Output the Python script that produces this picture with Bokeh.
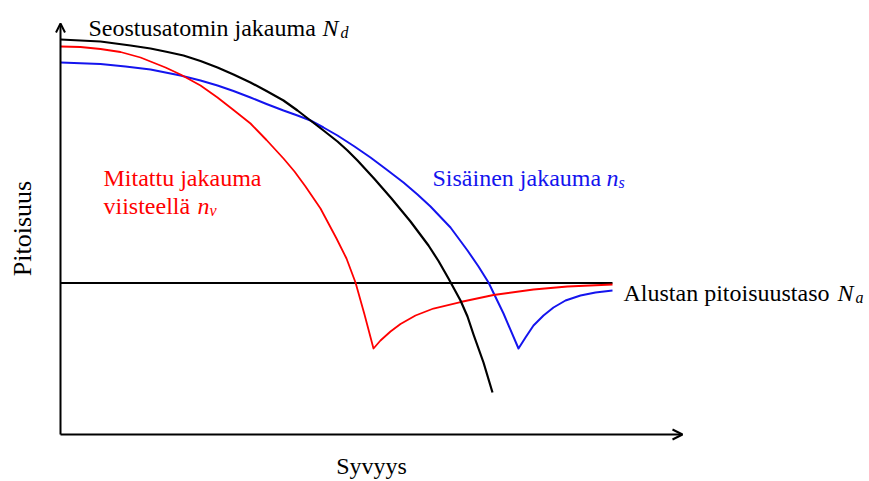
from bokeh.plotting import figure
from bokeh.models import Range1d, Arrow, OpenHead, Label
from bokeh.embed import file_html
from bokeh.resources import INLINE
import math

# ---- data (depth, concentration) in arbitrary units ----
dopant_depth = [0, 40, 70, 90, 107, 123, 140, 157, 173, 190, 206, 223, 237, 250, 263, 277, 287, 297,
                314, 331, 350, 368, 378, 388, 400, 407, 413, 423, 432]
dopant_conc = [395, 393, 389, 386, 382.5, 379, 373.5, 367, 360, 352, 343.5, 334, 324, 314, 304, 293, 284, 274,
               255.5, 236, 213, 189, 173.5, 156, 134, 118, 100, 72, 42]

measured_depth = [0, 20, 40, 60, 80, 90, 105, 120, 140, 157, 173, 190, 206, 223, 234, 245, 260, 276, 286,
                  295, 304, 313,
                  320, 330, 340, 355, 373, 400, 433, 473, 507, 552]
measured_conc = [388, 387.5, 385.5, 382.5, 377, 373, 367, 360, 349, 337, 324.5, 311, 294.5, 276, 263, 248, 226,
                 196, 176, 152, 120, 86,
                 94, 103, 110.5, 119, 126, 132.5, 139.5, 145, 148, 150]

intrinsic_depth = [0, 40, 65, 90, 120, 140, 157, 173, 190, 206, 223, 237, 250, 263, 277, 294, 310, 326, 343,
                   357, 370, 390, 407, 418, 428, 443, 458,
                   465, 473, 483, 493, 505, 520, 535, 552]
intrinsic_conc = [372, 370.5, 368, 365, 359, 354, 349, 343.5, 337, 330.5, 324, 319, 314, 307, 299, 288, 277,
                  265, 252, 240, 228, 207, 184, 168, 152, 121, 86,
                  97, 109, 119, 127, 134, 139, 142, 144]

substrate_depth = [0, 552]
substrate_conc = [151.5, 151.5]

x_axis_end = 622
y_axis_end = 411

FONT = "Liberation Serif"
BLUE = "#1414ee"
RED = "#ff0000"

p = figure(width=869, height=481, output_backend="svg", toolbar_location=None,
           x_range=Range1d(-60, 809), y_range=Range1d(-47, 434),
           x_axis_type=None, y_axis_type=None, min_border=0)
p.grid.visible = False
p.outline_line_color = None
p.background_fill_color = "white"

# axes with arrows
p.add_layout(Arrow(end=OpenHead(size=10, line_width=2, line_color="black"),
                   x_start=0, y_start=0, x_end=x_axis_end, y_end=0,
                   line_width=2, line_color="black"))
p.add_layout(Arrow(end=OpenHead(size=9, line_width=2, line_color="black"),
                   x_start=0, y_start=0, x_end=0, y_end=y_axis_end,
                   line_width=2, line_color="black"))

# curves
p.line(substrate_depth, substrate_conc, line_color="black", line_width=2)
p.line(intrinsic_depth, intrinsic_conc, line_color=BLUE, line_width=2, line_join="round")
p.line(measured_depth, measured_conc, line_color=RED, line_width=1.8, line_join="round")
p.line(dopant_depth, dopant_conc, line_color="black", line_width=2.2, line_join="round")


def txt(x, y, s, color="black", size="24px", style="normal", angle=0, align="left", baseline="alphabetic"):
    p.add_layout(Label(x=x, y=y, text=s, text_color=color, text_font=FONT, text_font_size=size,
                       text_font_style=style, angle=angle, text_align=align, text_baseline=baseline))


txt(28, 407, "Seostusatomin jakauma")
txt(262, 407, "N", style="italic")
txt(280, 402, "d", style="italic", size="16px")

txt(563, 142, "Alustan pitoisuustaso")
txt(777, 142, "N", style="italic")
txt(795, 137, "a", style="italic", size="16px")

txt(372, 257, "Sisäinen jakauma", color=BLUE)
txt(546, 257, "n", color=BLUE, style="italic")
txt(558, 252, "s", color=BLUE, style="italic", size="16px")

txt(43, 257, "Mitattu jakauma", color=RED)
txt(43, 229, "viisteellä", color=RED)
txt(137, 229, "n", color=RED, style="italic")
txt(149, 224, "v", color=RED, style="italic", size="16px")

txt(311, -31, "Syvyys", size="24px", align="center")
txt(-38, 206, "Pitoisuus", size="26px", angle=math.pi / 2, align="center", baseline="middle")

open("out.html", "w").write(file_html(p, INLINE))
